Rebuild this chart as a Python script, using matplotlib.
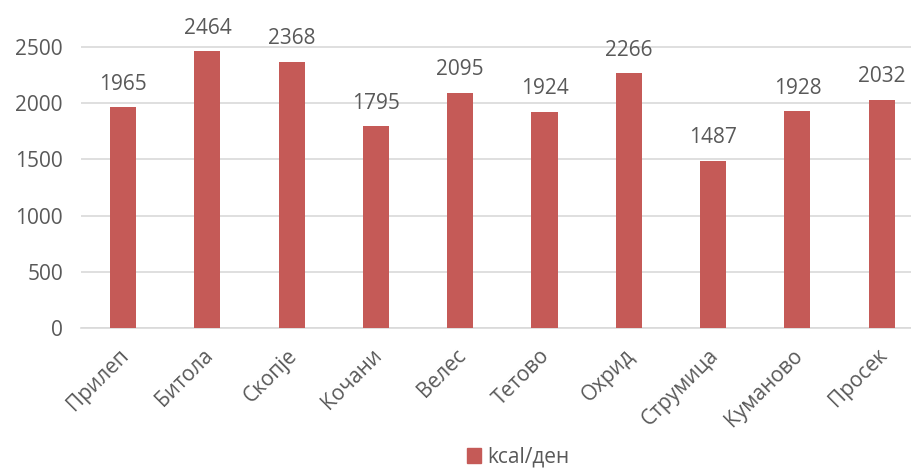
import matplotlib
matplotlib.use("Agg")
import matplotlib.pyplot as plt
import matplotlib.transforms as mtransforms
from matplotlib.patches import Patch

categories = ["Прилеп", "Битола", "Скопје", "Кочани", "Велес", "Тетово", "Охрид", "Струмица", "Куманово", "Просек"]
values = [1965, 2464, 2368, 1795, 2095, 1924, 2266, 1487, 1928, 2032]
yticks = [0, 500, 1000, 1500, 2000, 2500]
series_name = "kcal/ден"

plt.rcParams['font.family'] = ['Open Sans', 'DejaVu Sans']
txt = '#595959'
bar_color = '#C55A57'

fig = plt.figure(figsize=(9.12, 4.70), dpi=100)
top_px, zero_px, y2500_px = 5, 328, 47
ax = fig.add_axes([81/912, 1 - zero_px/470, 1 - 81/912, (zero_px - top_px)/470])
x = list(range(len(categories)))
ax.bar(x, values, width=0.31, color=bar_color, zorder=3)
ax.set_xlim(-0.5, 9.36)
ax.set_ylim(0, 2500 * (zero_px - top_px) / (zero_px - y2500_px))
ax.set_yticks(yticks)
ax.set_yticklabels([str(t) for t in yticks], fontsize=15, color=txt)
ax.set_xticks(x)
ax.set_xticklabels([])
offset = mtransforms.ScaledTranslation(-5/100, -17/100, fig.dpi_scale_trans)
for xi, name in zip(x, categories):
    ax.text(xi, 0, name, transform=ax.get_xaxis_transform() + offset, rotation=45,
            ha='right', va='top', rotation_mode='anchor', fontsize=15, color=txt)
ax.tick_params(axis='both', length=0)
ax.tick_params(axis='y', pad=13)
ax.grid(axis='y', color='#D9D9D9', linewidth=1.2, zorder=0)
for s in ['top', 'right', 'left']:
    ax.spines[s].set_visible(False)
ax.spines['bottom'].set_color('#D9D9D9')
ax.spines['bottom'].set_linewidth(1.2)
for xi, v in zip(x, values):
    ax.annotate(str(v), (xi, v), xytext=(0, 9), textcoords='offset points', ha='center', va='bottom', fontsize=15, color=txt)

fig.legend(handles=[Patch(color=bar_color)], labels=[series_name], loc='center', bbox_to_anchor=(518/912, 1 - 457/470),
           frameon=False, fontsize=15, labelcolor=txt, handlelength=0.7, handleheight=0.7, handletextpad=0.3)
fig.savefig("out.png", dpi=100)
